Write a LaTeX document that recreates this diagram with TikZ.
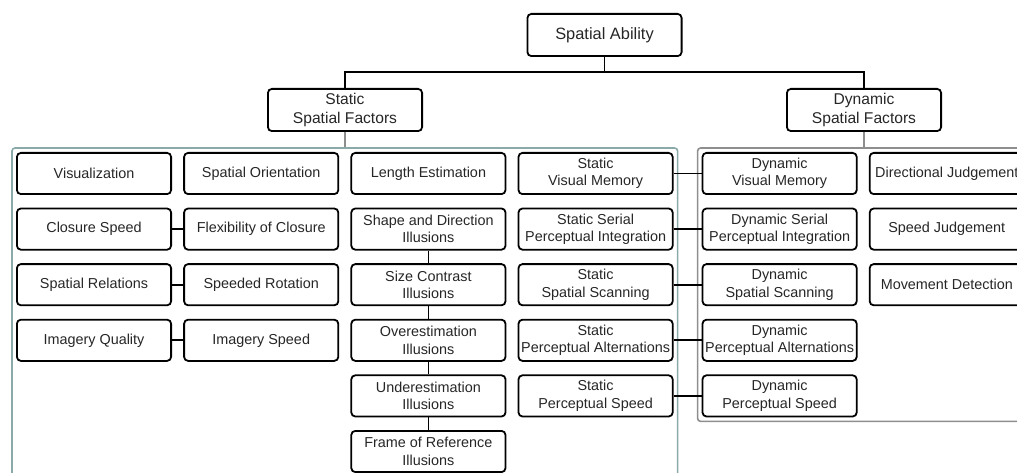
\documentclass[tikz,border=0pt]{standalone}
\usepackage{fontspec}
\setmainfont{Liberation Sans}
\usetikzlibrary{positioning,fit}
\definecolor{panelteal}{HTML}{8AAAAA}
\definecolor{panelgray}{HTML}{8E8E8E}

\begin{document}
\begin{tikzpicture}[x=1pt, y=-1pt, node distance={12.6pt and 11.2pt},
	box/.style = {draw, line width=1.8pt, rounded corners=4pt, minimum width=154.2pt, minimum height=41.2pt, inner xsep=1pt, align=center, text=black!85, font=\fontsize{14.4}{17.3}\selectfont},
	headbox/.style = {box, minimum height=42.2pt, font=\fontsize{15.6}{18.7}\selectfont},
	panel/.style = {draw, line width=1.6pt, rounded corners=3pt, inner sep=4pt},
	link/.style = {line width=1.8pt}]
	\useasboundingbox (0,0) rectangle (1017,473);
	\clip (0,0) rectangle (1017,473);
	% top levels
	\node[headbox, font=\fontsize{16.4}{19.7}\selectfont] (ability) at (604.5,35) {Spatial Ability};
	\node[headbox] (static) at (345,110) {Static\\Spatial Factors};
	\node[headbox] (dynamic) at (864,110) {Dynamic\\Spatial Factors};
	\coordinate (split) at (604.5,72);
	% static factors
	\node[box] (vis) at (94,173.5) {Visualization};
	\node[box] (orient) [right=of vis] {Spatial Orientation};
	\node[box] (length) [right=of orient] {Length Estimation};
	\node[box] (svm) [right=of length] {Static\\Visual Memory};
	\node[box] (closure) [below=of vis] {Closure Speed};
	\node[box] (flex) [right=of closure] {Flexibility of Closure};
	\node[box] (shape) [right=of flex] {Shape and Direction\\Illusions};
	\node[box] (sspi) [right=of shape] {Static Serial\\Perceptual Integration};
	\node[box] (rel) [below=of closure] {Spatial Relations};
	\node[box] (rot) [right=of rel] {Speeded Rotation};
	\node[box] (size) [right=of rot] {Size Contrast\\Illusions};
	\node[box] (sss) [right=of size] {Static\\Spatial Scanning};
	\node[box] (qual) [below=of rel] {Imagery Quality};
	\node[box] (ispeed) [right=of qual] {Imagery Speed};
	\node[box] (over) [right=of ispeed] {Overestimation\\Illusions};
	\node[box] (spa) [right=of over] {Static\\Perceptual Alternations};
	\node[box] (under) [below=of over] {Underestimation\\Illusions};
	\node[box] (sps) [right=of under] {Static\\Perceptual Speed};
	\node[box] (frame) [below=of under] {Frame of Reference\\Illusions};
	% dynamic factors
	\node[box] (dvm) [right=28pt of svm] {Dynamic\\Visual Memory};
	\node[box] (dirj) [right=of dvm] {Directional Judgement};
	\node[box] (dspi) [below=of dvm] {Dynamic Serial\\Perceptual Integration};
	\node[box] (speedj) [right=of dspi] {Speed Judgement};
	\node[box] (dss) [below=of dspi] {Dynamic\\Spatial Scanning};
	\node[box] (move) [right=of dss] {Movement Detection};
	\node[box] (dpa) [below=of dss] {Dynamic\\Perceptual Alternations};
	\node[box] (dps) [below=of dpa] {Dynamic\\Perceptual Speed};
	% panels
	\node[panel, draw=panelteal, fit=(vis)(svm)(frame)] (spanel) {};
	\node[panel, draw=panelgray, fit=(dvm)(dirj)(dps)] (dpanel) {};
	% links
	\draw[link] (ability) -- (split);
	\draw[link] (static) |- (split) -| (dynamic);
	\draw[link, panelgray] (static.south) -- (static.south |- spanel.north);
	\draw[link, panelgray] (dynamic.south) -- (dynamic.south |- dpanel.north);
	\draw[link] (closure) -- (flex);
	\draw[link] (rel) -- (rot);
	\draw[link] (qual) -- (ispeed);
	\draw[link] (shape) -- (size);
	\draw[link] (size) -- (over);
	\draw[link] (over) -- (under);
	\draw[link] (under) -- (frame);
	\draw[link] (svm) -- (dvm);
	\draw[link] (sspi) -- (dspi);
	\draw[link] (sss) -- (dss);
	\draw[link] (spa) -- (dpa);
	\draw[link] (sps) -- (dps);
\end{tikzpicture}
\end{document}
